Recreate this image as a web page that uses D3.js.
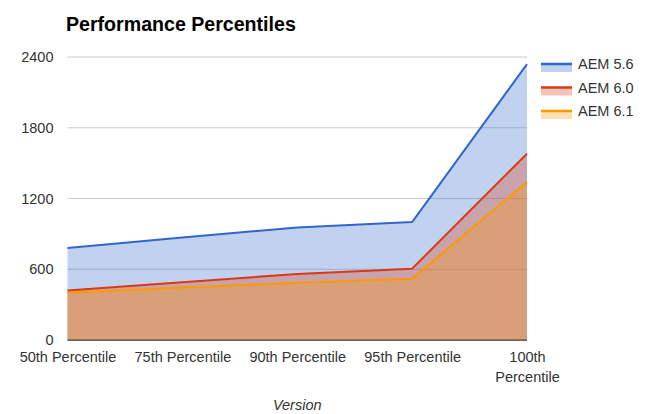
<!DOCTYPE html>
<html>
<head>
<meta charset="utf-8">
<script src="https://cdn.jsdelivr.net/npm/d3@7"></script>
<style>
  html, body { margin: 0; padding: 0; background: #fff; }
  svg { display: block; font-family: "Liberation Sans", Arial, Helvetica, sans-serif; }
</style>
</head>
<body>
<svg id="chart" width="650" height="414"></svg>
<script>
const categories = ["50th Percentile", "75th Percentile", "90th Percentile", "95th Percentile", "100th\nPercentile"];
const seriesNames = ["AEM 5.6", "AEM 6.0", "AEM 6.1"];
const aem56 = [780, 870, 955, 1000, 2340];
const aem60 = [420, 490, 560, 605, 1580];
const aem61 = [400, 445, 485, 520, 1340];
const yTicks = [0, 600, 1200, 1800, 2400];
const colors = ["#3366cc", "#dc3912", "#ff9900"];

(function () {
const series = [aem56, aem60, aem61].map((vals, i) => ({
  name: seriesNames[i], color: colors[i],
  values: vals.map((v, j) => ({ cat: categories[j], v }))
}));

const svg = d3.select("#chart");
const pLeft = 67.5, pRight = 527, pTop = 57, pBottom = 340;

const x = d3.scalePoint().domain(categories).range([pLeft, pRight]).padding(0);
const y = d3.scaleLinear().domain([0, 2400]).range([pBottom, pTop]);

// title
svg.append("text").attr("x", 66).attr("y", 31)
  .attr("font-size", 19.6).attr("font-weight", "bold").attr("fill", "#000")
  .text("Performance Percentiles");

// gridlines
svg.append("g").selectAll("line").data(yTicks.filter(t => t !== 0)).join("line")
  .attr("x1", pLeft).attr("x2", pRight)
  .attr("y1", d => y(d)).attr("y2", d => y(d))
  .attr("stroke", "#cccccc").attr("stroke-width", 1);

// y axis labels
const yAxis = d3.axisLeft(y).tickValues(yTicks).tickFormat(d3.format("d")).tickSize(0).tickPadding(14);
const gy = svg.append("g").attr("transform", `translate(${pLeft},0)`).call(yAxis);
gy.select(".domain").remove();
gy.selectAll("text").attr("font-size", 14.5).attr("fill", "#333")
  .attr("font-family", "Liberation Sans, Arial, sans-serif");

// baseline
svg.append("line").attr("x1", pLeft).attr("x2", pRight)
  .attr("y1", y(0)).attr("y2", y(0)).attr("stroke", "#333").attr("stroke-width", 1.5);

// areas
const area = d3.area().x(d => x(d.cat)).y0(y(0)).y1(d => y(d.v));
const line = d3.line().x(d => x(d.cat)).y(d => y(d.v));

svg.append("g").selectAll("path").data(series).join("path")
  .attr("d", d => area(d.values))
  .attr("fill", d => d.color).attr("fill-opacity", 0.3);

svg.append("g").selectAll("path").data(series).join("path")
  .attr("d", d => line(d.values))
  .attr("fill", "none").attr("stroke", d => d.color).attr("stroke-width", 2)
  .attr("stroke-linejoin", "round");

// x axis labels
const xAxis = d3.axisBottom(x).tickSize(0).tickPadding(0).tickFormat("");
const gx = svg.append("g").attr("transform", `translate(0,${pBottom})`).call(xAxis);
gx.select(".domain").remove();
gx.selectAll(".tick").each(function(d) {
  const lines = d.split("\n");
  const t = d3.select(this).append("text")
    .attr("text-anchor", "middle").attr("font-size", 14.5).attr("fill", "#333")
    .attr("font-family", "Liberation Sans, Arial, sans-serif");
  lines.forEach((l, i) => {
    t.append("tspan").attr("x", 0).attr("y", 21.5 + i * 20).text(l);
  });
});

// x axis title
svg.append("text").attr("x", (pLeft + pRight) / 2).attr("y", 410)
  .attr("text-anchor", "middle").attr("font-size", 14.5).attr("font-style", "italic")
  .attr("fill", "#333").text("Version");

// legend
const lg = svg.append("g").selectAll("g").data(series).join("g")
  .attr("transform", (d, i) => `translate(541,${64 + i * 23.5})`);
lg.append("rect").attr("x", 0).attr("y", 0).attr("width", 31).attr("height", 8)
  .attr("fill", d => d.color).attr("fill-opacity", 0.3);
lg.append("line").attr("x1", 0).attr("x2", 31).attr("y1", 0).attr("y2", 0)
  .attr("stroke", d => d.color).attr("stroke-width", 2.5);
lg.append("text").attr("x", 37).attr("y", 5).attr("font-size", 14.5).attr("fill", "#333")
  .text(d => d.name);
})();
</script>
</body>
</html>
